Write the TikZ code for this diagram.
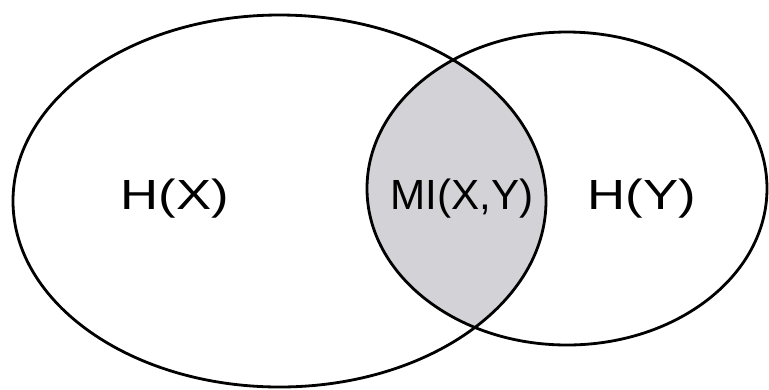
\documentclass[tikz,border=0pt]{standalone}
\usepackage{fontspec}
\setmainfont{Liberation Sans}
\definecolor{mishade}{RGB}{210,210,215}
\begin{document}
\begin{tikzpicture}[line width=1.6pt, every node/.style={font=\fontsize{24}{28}\selectfont, inner sep=0pt}]
  \useasboundingbox (0,0) rectangle (15.38,-7.78);
  \begin{scope}
    \clip (5.59,-4.02) ellipse [x radius=5.33, y radius=3.72];
    \fill[mishade] (11.34,-3.77) ellipse [x radius=4.00, y radius=3.13];
  \end{scope}
  \draw (5.59,-4.02) ellipse [x radius=5.33, y radius=3.72];
  \draw (11.34,-3.77) ellipse [x radius=4.00, y radius=3.13];
  \node[xscale=1.25] (hx) at (3.50,-3.98) {H(X)};
  \node (mi) at (9.24,-3.98) {MI(X,Y)};
  \node[xscale=1.25] (hy) at (12.84,-3.98) {H(Y)};
\end{tikzpicture}
\end{document}
